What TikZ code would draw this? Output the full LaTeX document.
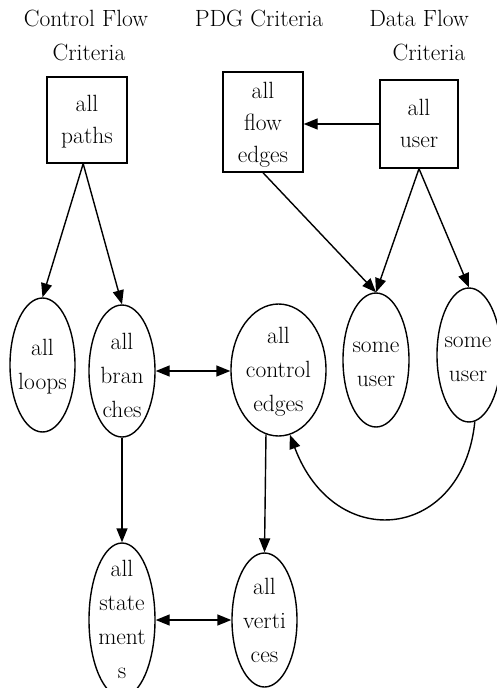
\documentclass[tikz,border=0pt]{standalone}
\usetikzlibrary{shapes.geometric,arrows.meta}
\begin{document}
\begin{tikzpicture}[x=1pt,y=-1pt,line width=1.4pt,
  ell/.style={draw,ellipse,inner sep=0pt},
  boxnode/.style={draw,rectangle,inner sep=0pt},
  txt/.style={align=center,inner sep=0pt,font=\fontsize{23.5}{34}\selectfont},
  btxt/.style={align=center,inner sep=0pt,font=\fontsize{23.5}{32}\selectfont},
  arr/.style={-{Triangle[length=14pt,width=11pt]}},
  darr/.style={{Triangle[length=14pt,width=11pt]}-{Triangle[length=14pt,width=11pt]}}]
\useasboundingbox (0,0) rectangle (497,688);
\clip (0,0) rectangle (497,688);
% titles
\node[txt,anchor=base] (t1) at (86,27) {Control Flow};
\node[txt,anchor=base] (t2) at (89,60) {Criteria};
\node[txt,anchor=base] (t3) at (259,27) {PDG Criteria};
\node[txt,anchor=base] (t4) at (419,27) {Data Flow};
\node[txt,anchor=base] (t5) at (429,60) {Criteria};
% boxes
\node[boxnode,minimum width=80pt,minimum height=86pt] (ap) at (87,120) {};
\node[btxt] (apt) at (87,122) {all\\paths};
\node[boxnode,minimum width=80pt,minimum height=100pt] (fe) at (263,122) {};
\node[btxt] (fet) at (263,125) {all\\flow\\edges};
\node[boxnode,minimum width=78pt,minimum height=88pt] (au) at (419,124) {};
\node[btxt] (aut) at (419,123.5) {all\\user};
% ellipses
\node[ell,minimum width=65pt,minimum height=134pt] (lo) at (42.5,365) {};
\node[txt] (lot) at (42.5,367) {all\\loops};
\node[ell,minimum width=66pt,minimum height=132pt] (br) at (122,371) {};
\node[txt] (brt) at (122,375) {all\\bran\\ches};
\node[ell,minimum width=95pt,minimum height=132pt] (ce) at (278.5,370) {};
\node[txt] (cet) at (278.5,372) {all\\control\\edges};
\node[ell,minimum width=66pt,minimum height=134pt] (su1) at (376,360) {};
\node[txt] (su1t) at (376,364) {some\\user};
\node[ell,minimum width=64pt,minimum height=134pt] (su2) at (469,355) {};
\node[txt] (su2t) at (468,359) {some\\user};
\node[ell,minimum width=66pt,minimum height=154pt] (st) at (122,620) {};
\node[txt] (stt) at (122,619) {all\\state\\ment\\s};
\node[ell,minimum width=65pt,minimum height=134pt] (av) at (264.5,620) {};
\node[txt] (avt) at (264.5,620) {all\\verti\\ces};
% connectors
\draw[arr] (ap.-95) -- (lo.north);
\draw[arr] (ap.-95) -- (br.north);
\draw[arr] (au.west) -- (au.west -| fe.east);
\draw[arr] (fe.south) -- (su1.north);
\draw[arr] (au.south) -- (su1.north);
\draw[arr] (au.south) -- (su2.north);
\draw[darr] (br.east) -- (br.east -| ce.west);
\draw[arr] (br.south) -- (st.north);
\draw[arr] (ce.-101) -- (av.north);
\draw[darr] (st.east) -- (av.west);
\draw[arr] (su2.-85) .. controls (463,540) and (335,555) .. (ce.-80);
\end{tikzpicture}
\end{document}
